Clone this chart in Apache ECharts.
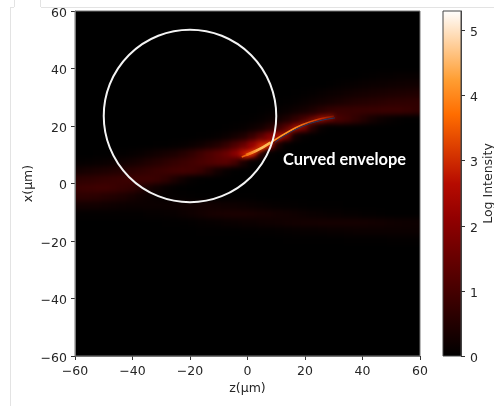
<!DOCTYPE html>
<html><head><meta charset="utf-8">
<script src="https://cdn.jsdelivr.net/npm/echarts@6/dist/echarts.min.js"></script>
<style>
html,body{margin:0;padding:0;background:#fff;overflow:hidden}
#root{position:relative;width:494px;height:406px}
#clip{position:absolute;left:75px;top:11px;width:345px;height:345px;overflow:hidden;background:#000}
#heat{position:absolute;left:-17.25px;top:-17.25px;width:379.5px;height:379.5px;filter:blur(2.6px)}
#over{position:absolute;left:0;top:0;width:494px;height:406px}
</style></head><body>
<div id="root"><div id="clip"><div id="heat"></div></div><div id="over"></div></div>
<script>
// Colour scale
const heatColors = ['#000000','#240000','#490000','#6d0000','#920000','#b60b00','#db3c00','#ff6d00','#ff9e33','#ffce99','#ffffff'];
const valueMax = 5.3;
// Axis ticks
const axisTicks = [-60,-40,-20,0,20,40,60];
const colorTicks = [0,1,2,3,4,5];
// Cell centres, micrometres
const zCenters = [-58.5,-55.5,-52.5,-49.5,-46.5,-43.5,-40.5,-37.5,-34.5,-31.5,-28.5,-25.5,-22.5,-19.5,-16.5,-13.5,-10.5,-7.5,-4.5,-1.5,1.5,4.5,7.5,10.5,13.5,16.5,19.5,22.5,25.5,28.5,31.5,34.5,37.5,40.5,43.5,46.5,49.5,52.5,55.5,58.5];
const xCenters = [37.5,34.5,31.5,28.5,25.5,22.5,19.5,16.5,13.5,10.5,7.5,4.5,1.5,-1.5,-4.5,-7.5,-10.5,-13.5,-16.5,-19.5];
// Log intensity, one row per xCenters entry
const rowsLogI = [
[0,0,0,0,0,0,0,0,0,0,0,0,0,0,0,0,0,0,0,0,0,0,0,0,0,0,0,0,0,0,0,0,0,.03,.05,.07,.08,.1,.1,.1],
[0,0,0,0,0,0,0,0,0,0,0,0,0,0,0,0,0,0,0,0,0,0,0,0,0,0,0,0,0,.02,.04,.07,.1,.13,.16,.18,.2,.22,.24,.24],
[0,0,0,0,0,0,0,0,0,0,0,0,0,0,0,0,0,0,0,0,0,0,0,0,0,.01,.03,.06,.1,.14,.18,.22,.26,.3,.34,.37,.4,.42,.44,.46],
[0,0,0,0,0,0,0,0,0,0,0,0,0,0,0,0,0,0,0,0,0,0,0,.01,.03,.06,.12,.18,.24,.3,.36,.42,.48,.52,.56,.6,.64,.66,.68,.68],
[0,0,0,0,0,0,0,0,0,0,0,0,0,0,0,0,0,0,0,0,0,.01,.03,.07,.12,.2,.3,.42,.6,.75,.8,.8,.8,.8,.82,.84,.85,.85,.8,.72],
[0,0,0,0,0,0,0,0,0,0,0,0,0,0,0,0,0,0,0,.01,.03,.07,.14,.25,.42,.7,1,1.3,1.6,1.3,1.05,.9,.7,.5,.3,.18,.1,.05,.02,.01],
[0,0,0,0,0,0,0,0,0,0,0,0,0,0,0,0,0,.02,.04,.08,.18,.3,.55,.85,1.3,1.8,1.6,.55,.12,.02,0,0,0,0,0,0,0,0,0,0],
[0,0,0,0,0,0,0,0,0,0,0,0,0,0,.02,.03,.07,.15,.28,.45,.8,1.3,1.9,2.3,1.6,.3,.04,0,0,0,0,0,0,0,0,0,0,0,0,0],
[0,0,0,0,0,0,0,0,0,.01,.02,.05,.08,.14,.22,.35,.5,.75,1.1,1.5,2.2,2.8,2.1,.4,.04,0,0,0,0,0,0,0,0,0,0,0,0,0,0,0],
[0,0,.01,.02,.03,.05,.08,.12,.18,.25,.32,.4,.55,.7,.9,1.1,1.3,1.55,2,2.7,2.5,.6,.06,0,0,0,0,0,0,0,0,0,0,0,0,0,0,0,0,0],
[.06,.08,.1,.13,.17,.22,.28,.36,.45,.55,.65,.75,.85,.95,1.05,1.15,1.25,1.3,1,.4,.06,0,0,0,0,0,0,0,0,0,0,0,0,0,0,0,0,0,0,0],
[.3,.34,.38,.42,.48,.55,.62,.68,.75,.82,.88,.95,.98,.95,.82,.55,.28,.1,.02,0,0,0,0,0,0,0,0,0,0,0,0,0,0,0,0,0,0,0,0,0],
[.65,.68,.72,.76,.8,.84,.88,.88,.88,.82,.68,.42,.22,.08,.02,0,0,0,0,0,0,0,0,0,0,0,0,0,0,0,0,0,0,0,0,0,0,0,0,0],
[.85,.88,.9,.9,.85,.78,.7,.54,.36,.22,.1,.04,.01,0,0,0,0,0,0,0,0,0,0,0,0,0,0,0,0,0,0,0,0,0,0,0,0,0,0,0],
[.65,.65,.62,.55,.48,.42,.32,.24,.18,.12,.08,.06,.04,.03,.02,.01,.01,.01,.01,.01,.01,0,0,0,0,0,0,0,0,0,0,0,0,0,0,0,0,0,0,0],
[.28,.28,.26,.24,.2,.18,.16,.16,.16,.16,.16,.17,.2,.24,.26,.26,.24,.22,.2,.17,.15,.12,.09,.07,.06,.04,.03,.02,.01,.01,.01,0,0,0,0,0,0,0,0,0],
[.05,.05,.05,.05,.05,.05,.05,.05,.07,.08,.1,.12,.17,.22,.27,.32,.36,.38,.38,.38,.37,.34,.32,.28,.25,.22,.18,.15,.13,.11,.1,.08,.07,.05,.04,.03,.02,.02,.01,.01],
[0,0,0,0,0,0,0,0,0,0,.01,.02,.03,.05,.07,.09,.11,.13,.15,.17,.18,.2,.22,.24,.26,.28,.29,.3,.31,.31,.31,.31,.31,.3,.28,.26,.24,.22,.2,.19],
[0,0,0,0,0,0,0,0,0,0,0,0,0,0,.01,.01,.01,.02,.02,.03,.03,.04,.04,.06,.07,.09,.1,.11,.12,.13,.13,.15,.16,.16,.16,.16,.16,.16,.16,.16],
[0,0,0,0,0,0,0,0,0,0,0,0,0,0,0,0,0,0,0,0,0,0,0,0,.01,.01,.01,.01,.01,.02,.02,.03,.03,.03,.03,.03,.04,.04,.04,.04]
];
// Bright ridge, its hottest stretch, and the drawn line on it
const ridgeZ = [-2,3,8,13,19,25,30];
const ridgeX = [9.2,11.4,14.2,17.3,20.4,22.4,23.4];
const coreZ = [-0.5,3,6,8];
const coreX = [9.9,11.4,13,14.2];
const traceZ = [9.5,13,19,25,30.4];
const traceX = [14.2,16.7,19.8,21.8,22.8];
// Circle: z centre, x centre, radius
const circleData = [[-20,23.5,30]];

const zCats = [-64.5,-61.5].concat(zCenters,[61.5,64.5]);
const xCats = zCats.slice();
const heatData = [];
rowsLogI.forEach((row,r)=>{
  const full=[row[0],row[0]].concat(row,[row[39],row[39]]);
  full.forEach((v,c)=>{ if(v>0) heatData.push([c, xCats.indexOf(xCenters[r]), v]); });
});
const heat = echarts.init(document.getElementById('heat'),null,{renderer:'canvas'});
heat.setOption({
  animation:false,
  grid:{left:0,right:0,top:0,bottom:0},
  xAxis:{type:'category',data:zCats,show:false},
  yAxis:{type:'category',data:xCats,show:false},
  visualMap:{show:false,min:0,max:valueMax,inRange:{color:heatColors}},
  series:[{type:'heatmap',data:heatData,itemStyle:{borderWidth:0}}]
});

const tickStyle = {color:'#262626',fontFamily:'DejaVu Sans',fontSize:12.5};
const frame = {left:75,top:11,width:345,height:345};
const over = echarts.init(document.getElementById('over'),null,{renderer:'canvas'});
const minus = v => String(v).replace('-','\u2212');
const tick = vals => ({show:true,inside:false,length:4,lineStyle:{color:'#333',width:1},customValues:vals});
const spine = c => ({show:true,onZero:false,lineStyle:{color:c,width:1}});
const barGradient = new echarts.graphic.LinearGradient(0,1,0,0,heatColors.map((c,i)=>({offset:i/(heatColors.length-1),color:c})));
over.setOption({
  animation:false,
  backgroundColor:'transparent',
  grid:[
    Object.assign({show:true,borderColor:'#777',borderWidth:1,backgroundColor:'transparent',z:5,containLabel:false,outerBoundsMode:'none'},frame),
    {show:true,left:443,top:11,width:18,height:345,borderColor:'#444',borderWidth:1,backgroundColor:barGradient,containLabel:false,outerBoundsMode:'none'}
  ],
  xAxis:[
    {gridIndex:0,type:'value',min:-60,max:60,interval:20,name:'z(\u03bcm)',nameLocation:'middle',nameGap:26,nameMoveOverlap:false,
     nameTextStyle:tickStyle,splitLine:{show:false},axisLine:spine('#777'),
     axisTick:tick(axisTicks),
     axisLabel:Object.assign({margin:9,formatter:minus,customValues:axisTicks},tickStyle)},
    {gridIndex:1,type:'value',min:0,max:1,show:false}
  ],
  yAxis:[
    {gridIndex:0,type:'value',min:-60,max:60,interval:20,name:'x(\u03bcm)',nameLocation:'middle',nameGap:40,nameRotate:90,nameMoveOverlap:false,
     nameTextStyle:tickStyle,splitLine:{show:false},axisLine:spine('#777'),
     axisTick:tick(axisTicks),
     axisLabel:Object.assign({margin:8,verticalAlign:'top',lineHeight:5,formatter:minus,customValues:axisTicks},tickStyle)},
    {gridIndex:1,type:'value',min:0,max:valueMax,position:'right',name:'Log Intensity',nameLocation:'middle',nameGap:21,nameRotate:90,nameMoveOverlap:false,
     nameTextStyle:tickStyle,splitLine:{show:false},axisLine:spine('#444'),
     axisTick:tick(colorTicks),
     axisLabel:Object.assign({margin:9,verticalAlign:'top',lineHeight:5,customValues:colorTicks},tickStyle)}
  ],
  series:[
    {type:'line',data:ridgeZ.map((z,i)=>[z,ridgeX[i]]),smooth:true,showSymbol:false,silent:true,z:3,
     lineStyle:{width:1.6,shadowBlur:5,shadowColor:'#d03000',
       color:new echarts.graphic.LinearGradient(0,0,1,0,[{offset:0,color:'#e85000'},{offset:.25,color:'#ffb040'},{offset:.55,color:'#ff9020'},{offset:.85,color:'#c02800'},{offset:1,color:'#701000'}])}},
    {type:'line',data:coreZ.map((z,i)=>[z,coreX[i]]),smooth:true,showSymbol:false,silent:true,z:4,
     lineStyle:{width:2.6,shadowBlur:4,shadowColor:'#ff5000',
       color:new echarts.graphic.LinearGradient(0,0,1,0,[{offset:0,color:'#f06000'},{offset:.6,color:'#ffc060'},{offset:1,color:'#ffb040'}])}},
    {type:'line',data:traceZ.map((z,i)=>[z,traceX[i]]),smooth:true,showSymbol:false,silent:true,z:6,
     lineStyle:{width:1,color:'#1d3a66'}},
    {type:'custom',coordinateSystem:'cartesian2d',data:circleData,silent:true,z:5,
     encode:{x:0,y:1},
     renderItem:(p,api)=>{
       const c=api.coord([api.value(0),api.value(1)]);
       const r=api.size([api.value(2),0])[0];
       return {type:'circle',shape:{cx:c[0],cy:c[1],r:r},style:{fill:'none',stroke:'#f4f4f4',lineWidth:2}};
     }}
  ],
  graphic:[
    {type:'text',left:283,top:152,z:20,style:{text:'Curved envelope',fill:'#fff',font:'bold 16.4px Lato'}},
    {type:'line',z:0,shape:{x1:10.5,y1:8,x2:10.5,y2:406},style:{stroke:'#e3e3e3',lineWidth:1}},
    {type:'line',z:0,shape:{x1:10,y1:7.5,x2:14,y2:7.5},style:{stroke:'#e3e3e3',lineWidth:1}},
    {type:'line',z:0,shape:{x1:14.5,y1:0,x2:14.5,y2:7},style:{stroke:'#e3e3e3',lineWidth:1}},
    {type:'line',z:0,shape:{x1:40.5,y1:0,x2:40.5,y2:7},style:{stroke:'#e3e3e3',lineWidth:1}},
    {type:'line',z:0,shape:{x1:41,y1:7.5,x2:494,y2:7.5},style:{stroke:'#e3e3e3',lineWidth:1}}
  ]
});
</script></body></html>
